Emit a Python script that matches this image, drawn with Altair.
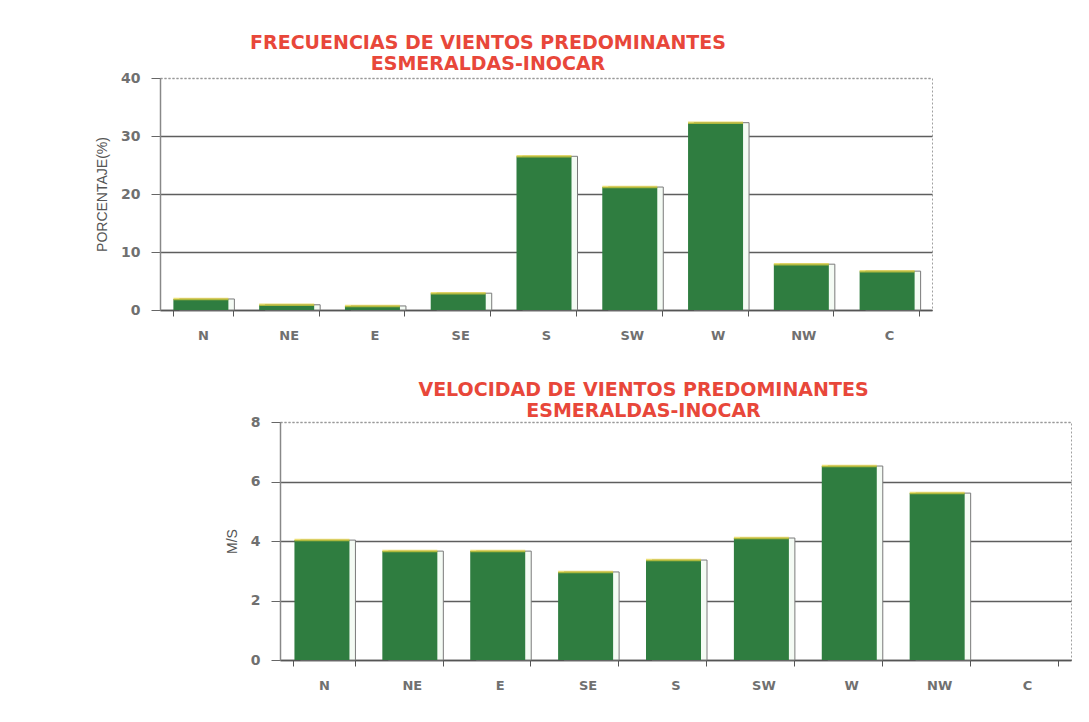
import altair as alt
import pandas as pd

dirs_top = ["N", "NE", "E", "SE", "S", "SW", "W", "NW", "C"]
freq = [1.9, 0.9, 0.7, 2.9, 26.5, 21.2, 32.3, 7.9, 6.7]

dirs_bot = ["N", "NE", "E", "SE", "S", "SW", "W", "NW", "C"]
vel = [4.03, 3.66, 3.66, 2.96, 3.36, 4.1, 6.52, 5.61, 0.0]

title_top = ["FRECUENCIAS DE VIENTOS PREDOMINANTES", "ESMERALDAS-INOCAR"]
title_bot = ["VELOCIDAD DE VIENTOS PREDOMINANTES", "ESMERALDAS-INOCAR"]

GREEN = "#2f7d40"
YELLOW = "#e3d23c"
LABEL = "#707070"
GRID = "#5e5e5e"
FONT = "DejaVu Sans"
TFONT = "DejaVu Sans"


def bar_panel(cats, vals, ymax, ystep, ytitle, width, height, title, dx, toff):
    df = pd.DataFrame({"dir": cats, "v": vals})
    cond_color = {"condition": {"test": f"datum.value == {ymax}", "value": "#9a9a9a"}, "value": GRID}
    cond_dash = {"condition": {"test": f"datum.value == {ymax}", "value": [2, 2]}, "value": []}
    x = alt.X(
        "dir:N", sort=cats, title=None,
        scale=alt.Scale(domain=cats, paddingInner=0.3, paddingOuter=0.15),
        axis=alt.Axis(
            labelAngle=0, tickBand="extent", tickSize=6, tickColor="#555",
            domainColor="#555", domainWidth=1.5, labelPadding=13,
            labelFont=FONT, labelFontSize=13, labelFontWeight="bold", labelColor=LABEL,
        ),
    )
    y = alt.Y(
        "v:Q", title=ytitle,
        scale=alt.Scale(domain=[0, ymax], nice=False),
        axis=alt.Axis(
            values=list(range(0, ymax + 1, ystep)), tickSize=9, tickColor="#666",
            domainColor="#888", domainWidth=1.5, labelPadding=11,
            labelFont=FONT, labelFontSize=14, labelFontWeight="bold", labelColor=LABEL,
            titleFont="Liberation Sans", titleFontSize=14, titleFontWeight="normal", titleColor="#555",
            titlePadding=11,
            grid=True, gridColor=cond_color, gridDash=cond_dash, gridWidth=1.4,
        ),
    )
    base = alt.Chart(df).transform_filter("datum.v > 0")
    shadow = base.mark_bar(size=55, xOffset=4, fill="#f4fbf4", stroke="#7a7a7a", strokeWidth=1).encode(x=x, y=y)
    bars = base.mark_bar(size=55, xOffset=-2, color=GREEN).encode(x=x, y=y)
    tops = base.mark_tick(size=55, thickness=2.5, xOffset=-2, color=YELLOW, orient="horizontal").encode(x=x, y=y)
    return alt.layer(shadow, bars, tops).properties(
        width=width, height=height,
        title=alt.TitleParams(
            text=title, anchor="middle", dx=dx, offset=toff, font=TFONT, fontSize=19,
            fontWeight="bold", color="#e8473a", lineHeight=21,
        ),
        view=alt.ViewBackground(stroke="#a0a0a0", strokeDash=[2, 2], strokeWidth=1),
    )


top = bar_panel(dirs_top, freq, 40, 10, "PORCENTAJE(%)", 772, 232, title_top, -58, -3)
bot = bar_panel(dirs_bot, vel, 8, 2, "M/S", 791, 238, title_bot, -32, -6)

spacer = alt.Chart(pd.DataFrame({"a": [0]})).mark_point(opacity=0).properties(
    width=63, height=238, view=alt.ViewBackground(stroke="transparent")
)

chart = alt.vconcat(
    top, alt.hconcat(spacer, bot, spacing=0), spacing=37
).properties(
    padding={"left": 87, "top": 25, "right": 5, "bottom": 5},
    background="white",
)

chart.save("out.html", embed_options={"renderer": "svg", "actions": False})
